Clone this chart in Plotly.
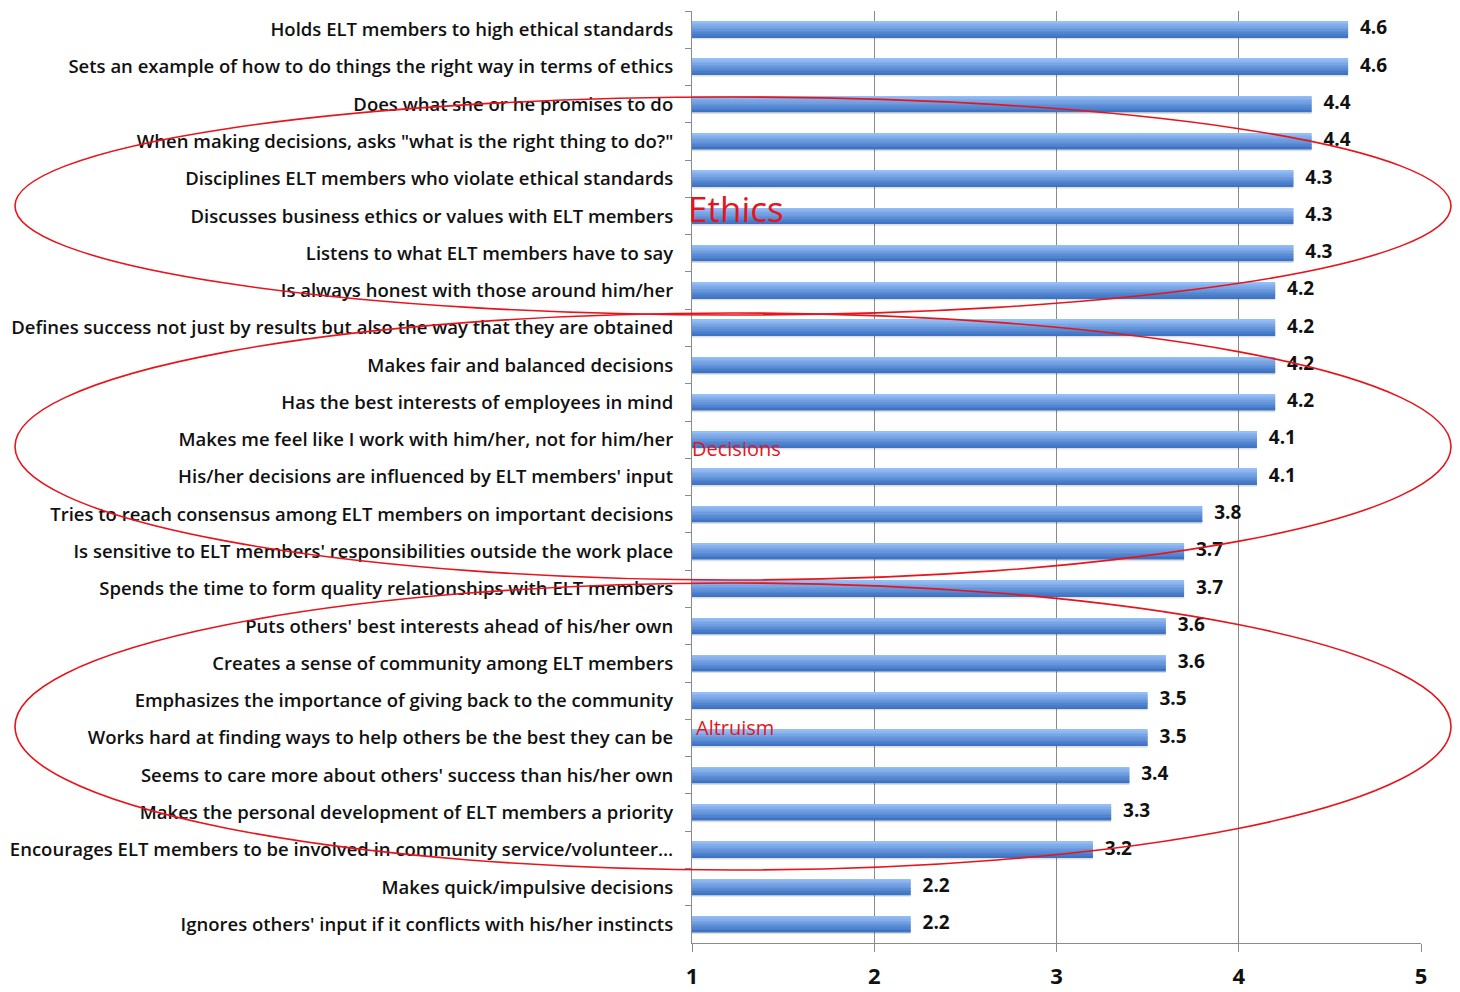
import plotly.graph_objects as go

categories = [
    "Holds ELT members to high ethical standards",
    "Sets an example of how to do things the right way in terms of ethics",
    "Does what she or he promises to do",
    'When making decisions, asks "what is the right thing to do?"',
    "Disciplines ELT members who violate ethical standards",
    "Discusses business ethics or values with ELT members",
    "Listens to what ELT members have to say",
    "Is always honest with those around him/her",
    "Defines success not just by results but also the way that they are obtained",
    "Makes fair and balanced decisions",
    "Has the best interests of employees in mind",
    "Makes me feel like I work with him/her, not for him/her",
    "His/her decisions are influenced by ELT members' input",
    "Tries to reach consensus among ELT members on important decisions",
    "Is sensitive to ELT members' responsibilities outside the work place",
    "Spends the time to form quality relationships with ELT members",
    "Puts others' best interests ahead of his/her own",
    "Creates a sense of community among ELT members",
    "Emphasizes the importance of giving back to the community",
    "Works hard at finding ways to help others be the best they can be",
    "Seems to care more about others' success than his/her own",
    "Makes the personal development of ELT members a priority",
    "Encourages ELT members to be involved in community service/volunteer…",
    "Makes quick/impulsive decisions",
    "Ignores others' input if it conflicts with his/her instincts",
]
values = [4.6, 4.6, 4.4, 4.4, 4.3, 4.3, 4.3, 4.2, 4.2, 4.2, 4.2, 4.1, 4.1,
          3.8, 3.7, 3.7, 3.6, 3.6, 3.5, 3.5, 3.4, 3.3, 3.2, 2.2, 2.2]
x_ticks = [1, 2, 3, 4, 5]
groups = ["Ethics", "Decisions", "Altruism"]

FONT = "Open Sans"
fig = go.Figure()

# shadow under bars
fig.add_trace(go.Bar(y=categories, x=values, orientation="h", offset=-0.19, width=0.45,
                     marker=dict(color="rgba(0,0,0,0.13)", line=dict(width=0)),
                     hoverinfo="skip", showlegend=False))

# gradient strips (top light -> bottom dark)
top_c = (150, 190, 246)
bot_c = (62, 116, 196)
N = 10
bar_half = 0.215
strip = 2 * bar_half / N
for i in range(N):
    t = i / (N - 1)
    c = tuple(int(round(top_c[k] + (bot_c[k] - top_c[k]) * t)) for k in range(3))
    fig.add_trace(go.Bar(y=categories, x=values, orientation="h",
                         offset=-bar_half + i * strip, width=strip * 1.02,
                         marker=dict(color="rgb(%d,%d,%d)" % c, line=dict(width=0)),
                         hoverinfo="skip", showlegend=False))

# value labels
fig.add_trace(go.Scatter(y=categories, x=[v + 0.065 for v in values], mode="text",
                         text=["%.1f" % v for v in values], textposition="middle right",
                         textfont=dict(family=FONT, size=19, color="#111111", weight="bold"),
                         hoverinfo="skip", showlegend=False, cliponaxis=False))

# ellipses (paper coords derived from pixel layout)
L, R, T, B = 692, 1421, 11, 943
def px(x):
    return (x - L) / (R - L)
def py(y):
    return (B - y) / (B - T)

ell = [(15, 97, 1451, 315), (15, 313, 1451, 580), (15, 583, 1451, 870)]
for x0, y0, x1, y1 in ell:
    fig.add_shape(type="circle", xref="paper", yref="paper",
                  x0=px(x0), x1=px(x1), y0=py(y1), y1=py(y0),
                  line=dict(color="#E8141B", width=1.6), layer="above")

lbl_pos = [(686, 208, 35), (690, 448, 20), (694, 727, 20)]
for g, (lx, ly, fs) in zip(groups, lbl_pos):
    fig.add_annotation(text=g, xref="paper", yref="paper", x=px(lx), y=py(ly),
                       xanchor="left", yanchor="middle", showarrow=False,
                       font=dict(family=FONT, size=fs, color="#E8141B"))

fig.update_layout(
    width=1460, height=992,
    margin=dict(l=L, r=1460 - R, t=T, b=992 - B),
    paper_bgcolor="white", plot_bgcolor="white",
    barmode="overlay", showlegend=False,
    xaxis=dict(range=[1, 5], tickvals=x_ticks, ticktext=[str(t) for t in x_ticks],
               showgrid=True, gridcolor="#8a8a8a", gridwidth=1,
               showline=True, linecolor="#8a8a8a", linewidth=1.2,
               ticks="outside", ticklen=8, tickcolor="#8a8a8a",
               ticklabelstandoff=5, automargin=False,
               tickfont=dict(family=FONT, size=22, color="#111111", weight="bold"),
               zeroline=False, fixedrange=True),
    yaxis=dict(categoryorder="array", categoryarray=categories,
               range=[len(categories) - 0.5, -0.5],
               showline=True, linecolor="#8a8a8a", linewidth=1.2,
               ticks="outside", ticklen=6, tickcolor="#8a8a8a", tickson="boundaries",
               tickfont=dict(family=FONT, size=18.5, color="#111111", weight=600),
               ticklabelstandoff=14, showgrid=False, automargin=False),
)

fig.write_html("out.html", config={"displayModeBar": False},
               post_script="document.body.style.margin='0px';")
